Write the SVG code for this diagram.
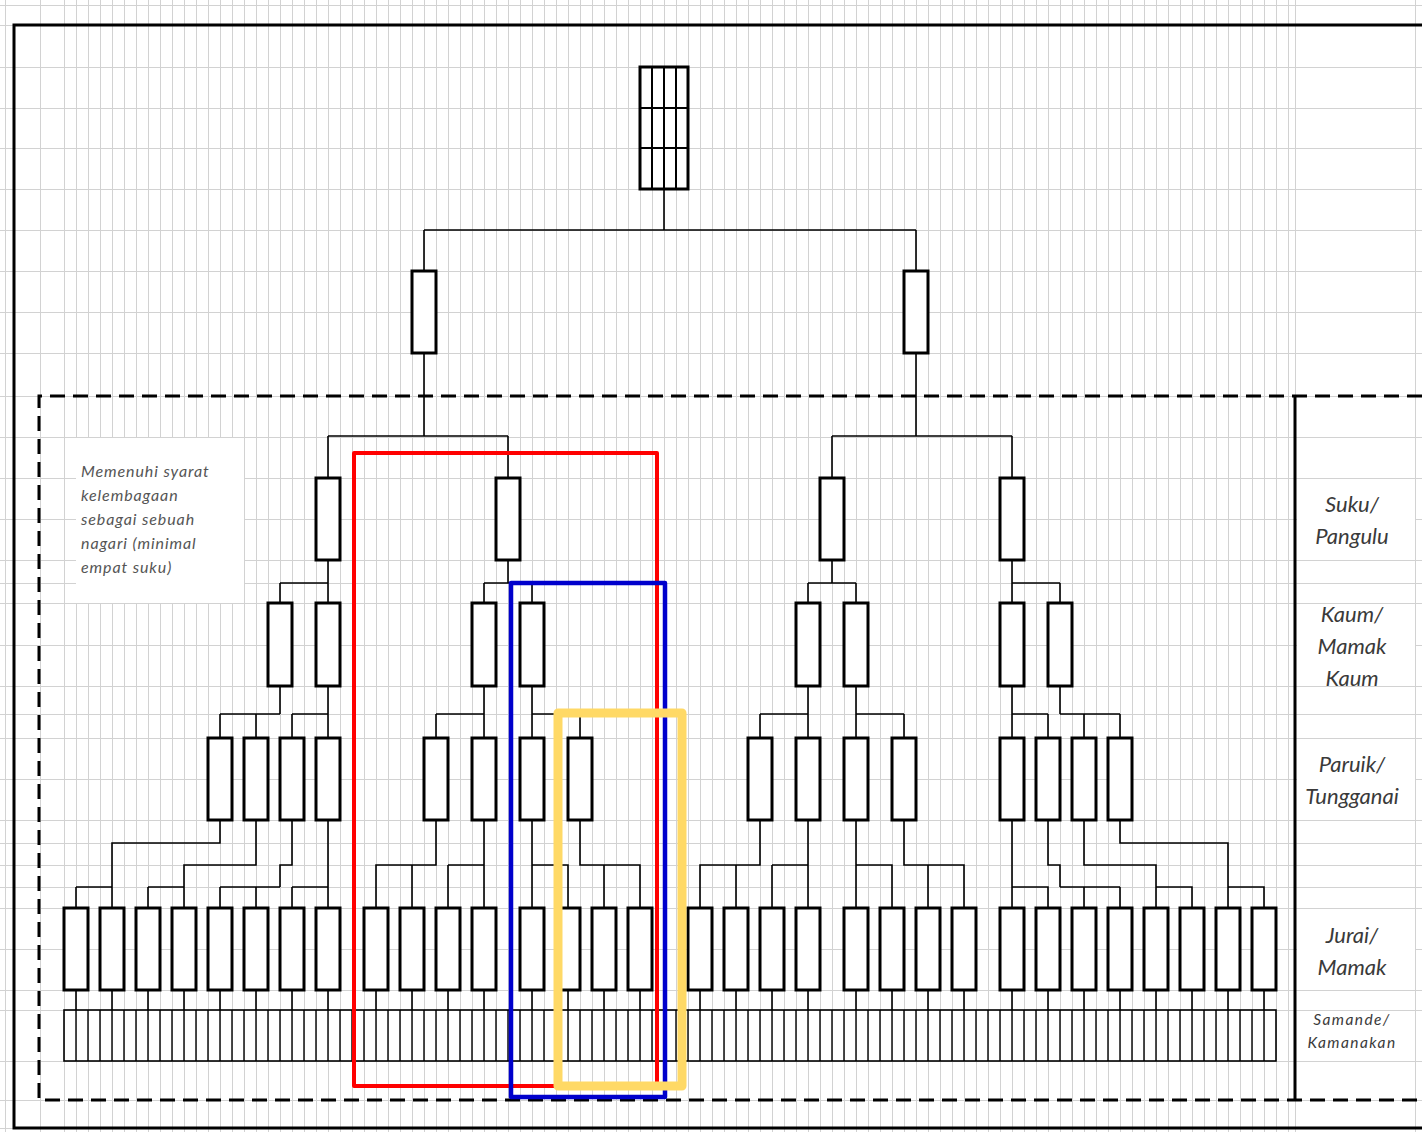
<svg xmlns="http://www.w3.org/2000/svg" width="1422" height="1132" viewBox="0 0 1422 1132">
<style>
.node{fill:#fff;stroke:#000;stroke-width:3}
.conn{fill:none;stroke:#000;stroke-width:1.6}
.grid{fill:none;stroke:#d2d2d2;stroke-width:1}
.lbl{font-family:Lato,"Open Sans",sans-serif;font-style:italic;fill:#3a3a3a;text-anchor:middle}
.note{font-family:Lato,"Open Sans",sans-serif;font-style:italic;fill:#555;font-size:16px;letter-spacing:0.9px}
</style>
<defs>
<pattern id="vg" x="4" y="0" width="12" height="1132" patternUnits="userSpaceOnUse"><rect x="0" y="0" width="1" height="1132" fill="#d2d2d2"/></pattern>
</defs>
<rect width="1422" height="1132" fill="#fff"/>
<g id="grid">
<rect x="60" y="0" width="1230" height="1132" fill="url(#vg)"/>
<path class="grid" d="M5.5,0V1132M40.5,0V1132M1295.5,0V1132M1415.5,0V1132"/>
<path class="grid" d="M0,5.5H1422M0,25.5H1422M0,67.5H1422M0,108.5H1422M0,148.5H1422M0,189.5H1422M0,230.5H1422M0,271.5H1422M0,312.5H1422M0,353.5H1422M0,396.5H1422M0,437.5H1422M0,478.5H1422M0,519.5H1422M0,560.5H1422M0,583.5H1422M0,603.5H1422M0,645.5H1422M0,686.5H1422M0,714.5H1422M0,738.5H1422M0,779.5H1422M0,820.5H1422M0,843.5H1422M0,865.5H1422M0,887.5H1422M0,908.5H1422M0,949.5H1422M0,990.5H1422M0,1010.5H1422M0,1061.5H1422M0,1100.5H1422M0,1128.5H1422"/>
<rect x="76" y="438" width="168" height="165" fill="#fff"/>
<rect x="1297" y="479" width="118" height="81" fill="#fff"/>
<rect x="1297" y="604" width="118" height="82" fill="#fff"/>
<rect x="1297" y="739" width="118" height="81" fill="#fff"/>
<rect x="1297" y="909" width="118" height="81" fill="#fff"/>
<rect x="1297" y="1011" width="118" height="50" fill="#fff"/>
</g>
<g id="frame" fill="none" stroke="#000">
<path d="M1422,25H14V1128H1422" stroke-width="3"/>
<path d="M1422,396H39V1100H1422" stroke-width="3" stroke-dasharray="15,8"/>
<path d="M1295,396V1100" stroke-width="3"/>
</g>
<g id="connectors" class="conn">
<path d="M664,189V230M424,230H916M424,230V271M916,230V271"/>
<path d="M424,353V436M328,436H508M328,436V478M508,436V478"/>
<path d="M916,353V436M832,436H1012M832,436V478M1012,436V478"/>
<path d="M328,560V603M280,583H328M280,583V603"/>
<path d="M508,560V583M484,583H532M484,583V603M532,583V603"/>
<path d="M832,560V583M808,583H856M808,583V603M856,583V603"/>
<path d="M1012,560V603M1012,583H1060M1060,583V603"/>
<path d="M280,686V714M220,714H280M220,714V738M256,714V738"/>
<path d="M328,686V738M292,714H328M292,714V738"/>
<path d="M484,686V738M436,714H484M436,714V738"/>
<path d="M532,686V738M532,714H580M580,714V738"/>
<path d="M808,686V738M760,714H808M760,714V738"/>
<path d="M856,686V738M856,714H904M904,714V738"/>
<path d="M1012,686V738M1012,714H1048M1048,714V738"/>
<path d="M1060,686V714M1060,714H1120M1084,714V738M1120,714V738"/>
<path d="M220,820V843H112V908M76,887H112M76,887V908"/>
<path d="M256,820V865H184V908M148,887H184M148,887V908"/>
<path d="M292,820V865H280V887M220,887H280M220,887V908M256,887V908"/>
<path d="M328,820V908M292,887H328M292,887V908"/>
<path d="M436,820V865H376V908M412,865V908"/>
<path d="M484,820V908M448,865H484M448,865V908"/>
<path d="M532,820V908M532,865H568V908"/>
<path d="M580,820V865H640V908M604,865V908"/>
<path d="M760,820V865H700V908M736,865V908"/>
<path d="M808,820V908M772,865H808M772,865V908"/>
<path d="M856,820V908M856,865H892V908"/>
<path d="M904,820V865H964V908M928,865V908"/>
<path d="M1012,820V908M1012,887H1048V908"/>
<path d="M1048,820V865H1060V887M1060,887H1120M1084,887V908M1120,887V908"/>
<path d="M1084,820V865H1156V908M1156,887H1192V908"/>
<path d="M1120,820V843H1228V908M1228,887H1264V908"/>
<path d="M76,990V1010M112,990V1010M148,990V1010M184,990V1010M220,990V1010M256,990V1010M292,990V1010M328,990V1010M376,990V1010M412,990V1010M448,990V1010M484,990V1010M532,990V1010M568,990V1010M604,990V1010M640,990V1010M700,990V1010M736,990V1010M772,990V1010M808,990V1010M856,990V1010M892,990V1010M928,990V1010M964,990V1010M1012,990V1010M1048,990V1010M1084,990V1010M1120,990V1010M1156,990V1010M1192,990V1010M1228,990V1010M1264,990V1010"/>
</g>
<g id="node-top">
<rect class="node" x="640" y="67" width="48" height="122"/>
<path d="M652,67V189M664,67V189M676,67V189M640,108H688M640,148H688" stroke="#000" stroke-width="2" fill="none"/>
</g>
<g id="level2">
<rect id="n-l2-1" class="node" x="412" y="271" width="24" height="82"/>
<rect id="n-l2-2" class="node" x="904" y="271" width="24" height="82"/>
</g>
<g id="suku">
<rect id="n-s1" class="node" x="316" y="478" width="24" height="82"/>
<rect id="n-s2" class="node" x="496" y="478" width="24" height="82"/>
<rect id="n-s3" class="node" x="820" y="478" width="24" height="82"/>
<rect id="n-s4" class="node" x="1000" y="478" width="24" height="82"/>
</g>
<g id="kaum">
<rect class="node" x="268" y="603" width="24" height="83"/>
<rect class="node" x="316" y="603" width="24" height="83"/>
<rect class="node" x="472" y="603" width="24" height="83"/>
<rect class="node" x="520" y="603" width="24" height="83"/>
<rect class="node" x="796" y="603" width="24" height="83"/>
<rect class="node" x="844" y="603" width="24" height="83"/>
<rect class="node" x="1000" y="603" width="24" height="83"/>
<rect class="node" x="1048" y="603" width="24" height="83"/>
</g>
<g id="paruik">
<rect class="node" x="208" y="738" width="24" height="82"/>
<rect class="node" x="244" y="738" width="24" height="82"/>
<rect class="node" x="280" y="738" width="24" height="82"/>
<rect class="node" x="316" y="738" width="24" height="82"/>
<rect class="node" x="424" y="738" width="24" height="82"/>
<rect class="node" x="472" y="738" width="24" height="82"/>
<rect class="node" x="520" y="738" width="24" height="82"/>
<rect class="node" x="568" y="738" width="24" height="82"/>
<rect class="node" x="748" y="738" width="24" height="82"/>
<rect class="node" x="796" y="738" width="24" height="82"/>
<rect class="node" x="844" y="738" width="24" height="82"/>
<rect class="node" x="892" y="738" width="24" height="82"/>
<rect class="node" x="1000" y="738" width="24" height="82"/>
<rect class="node" x="1036" y="738" width="24" height="82"/>
<rect class="node" x="1072" y="738" width="24" height="82"/>
<rect class="node" x="1108" y="738" width="24" height="82"/>
</g>
<g id="jurai">
<rect class="node" x="64" y="908" width="24" height="82"/>
<rect class="node" x="100" y="908" width="24" height="82"/>
<rect class="node" x="136" y="908" width="24" height="82"/>
<rect class="node" x="172" y="908" width="24" height="82"/>
<rect class="node" x="208" y="908" width="24" height="82"/>
<rect class="node" x="244" y="908" width="24" height="82"/>
<rect class="node" x="280" y="908" width="24" height="82"/>
<rect class="node" x="316" y="908" width="24" height="82"/>
<rect class="node" x="364" y="908" width="24" height="82"/>
<rect class="node" x="400" y="908" width="24" height="82"/>
<rect class="node" x="436" y="908" width="24" height="82"/>
<rect class="node" x="472" y="908" width="24" height="82"/>
<rect class="node" x="520" y="908" width="24" height="82"/>
<rect class="node" x="556" y="908" width="24" height="82"/>
<rect class="node" x="592" y="908" width="24" height="82"/>
<rect class="node" x="628" y="908" width="24" height="82"/>
<rect class="node" x="688" y="908" width="24" height="82"/>
<rect class="node" x="724" y="908" width="24" height="82"/>
<rect class="node" x="760" y="908" width="24" height="82"/>
<rect class="node" x="796" y="908" width="24" height="82"/>
<rect class="node" x="844" y="908" width="24" height="82"/>
<rect class="node" x="880" y="908" width="24" height="82"/>
<rect class="node" x="916" y="908" width="24" height="82"/>
<rect class="node" x="952" y="908" width="24" height="82"/>
<rect class="node" x="1000" y="908" width="24" height="82"/>
<rect class="node" x="1036" y="908" width="24" height="82"/>
<rect class="node" x="1072" y="908" width="24" height="82"/>
<rect class="node" x="1108" y="908" width="24" height="82"/>
<rect class="node" x="1144" y="908" width="24" height="82"/>
<rect class="node" x="1180" y="908" width="24" height="82"/>
<rect class="node" x="1216" y="908" width="24" height="82"/>
<rect class="node" x="1252" y="908" width="24" height="82"/>
</g>
<g id="samande">
<rect x="64" y="1010" width="1212" height="51" fill="none" stroke="#000" stroke-width="1.6"/>
<path d="M76,1010V1061M88,1010V1061M100,1010V1061M112,1010V1061M124,1010V1061M136,1010V1061M148,1010V1061M160,1010V1061M172,1010V1061M184,1010V1061M196,1010V1061M208,1010V1061M220,1010V1061M232,1010V1061M244,1010V1061M256,1010V1061M268,1010V1061M280,1010V1061M292,1010V1061M304,1010V1061M316,1010V1061M328,1010V1061M340,1010V1061M352,1010V1061M364,1010V1061M376,1010V1061M388,1010V1061M400,1010V1061M412,1010V1061M424,1010V1061M436,1010V1061M448,1010V1061M460,1010V1061M472,1010V1061M484,1010V1061M496,1010V1061M508,1010V1061M520,1010V1061M532,1010V1061M544,1010V1061M556,1010V1061M568,1010V1061M580,1010V1061M592,1010V1061M604,1010V1061M616,1010V1061M628,1010V1061M640,1010V1061M652,1010V1061M664,1010V1061M676,1010V1061M688,1010V1061M700,1010V1061M712,1010V1061M724,1010V1061M736,1010V1061M748,1010V1061M760,1010V1061M772,1010V1061M784,1010V1061M796,1010V1061M808,1010V1061M820,1010V1061M832,1010V1061M844,1010V1061M856,1010V1061M868,1010V1061M880,1010V1061M892,1010V1061M904,1010V1061M916,1010V1061M928,1010V1061M940,1010V1061M952,1010V1061M964,1010V1061M976,1010V1061M988,1010V1061M1000,1010V1061M1012,1010V1061M1024,1010V1061M1036,1010V1061M1048,1010V1061M1060,1010V1061M1072,1010V1061M1084,1010V1061M1096,1010V1061M1108,1010V1061M1120,1010V1061M1132,1010V1061M1144,1010V1061M1156,1010V1061M1168,1010V1061M1180,1010V1061M1192,1010V1061M1204,1010V1061M1216,1010V1061M1228,1010V1061M1240,1010V1061M1252,1010V1061M1264,1010V1061" stroke="#000" stroke-width="1.4" fill="none"/>
</g>
<g id="note">
<text class="note" x="81" y="477">Memenuhi syarat</text>
<text class="note" x="81" y="501">kelembagaan</text>
<text class="note" x="81" y="525">sebagai sebuah</text>
<text class="note" x="81" y="549">nagari (minimal</text>
<text class="note" x="81" y="573">empat suku)</text>
</g>
<g id="labels">
<text class="lbl" x="1352" y="512" font-size="22">Suku/</text>
<text class="lbl" x="1352" y="544" font-size="22">Pangulu</text>
<text class="lbl" x="1352" y="622" font-size="22">Kaum/</text>
<text class="lbl" x="1352" y="654" font-size="22">Mamak</text>
<text class="lbl" x="1352" y="686" font-size="22">Kaum</text>
<text class="lbl" x="1352" y="772" font-size="22">Paruik/</text>
<text class="lbl" x="1352" y="804" font-size="22">Tungganai</text>
<text class="lbl" x="1352" y="943" font-size="22">Jurai/</text>
<text class="lbl" x="1352" y="975" font-size="22">Mamak</text>
<text class="lbl" x="1352" y="1025" font-size="15.5" letter-spacing="1.4">Samande/</text>
<text class="lbl" x="1352" y="1048" font-size="15.5" letter-spacing="1.4">Kamanakan</text>
</g>
<g id="highlights" fill="none" stroke-linejoin="round">
<rect x="354" y="453" width="303" height="633" stroke="#ff0000" stroke-width="4"/>
<rect x="511" y="583" width="154" height="514" stroke="#0000cc" stroke-width="4.5"/>
<rect x="558" y="713" width="124" height="373" stroke="#ffd966" stroke-width="9"/>
</g>
</svg>
